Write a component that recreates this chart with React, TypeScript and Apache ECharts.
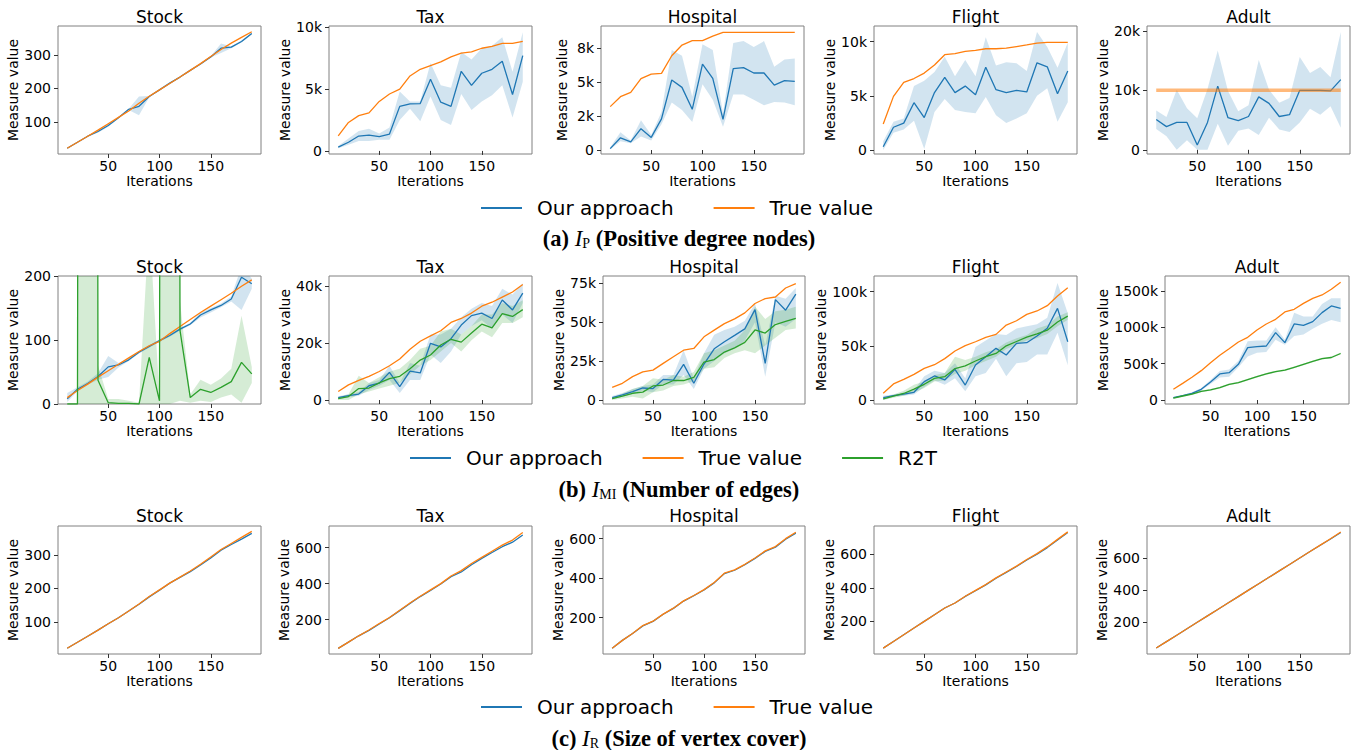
import { useEffect, useRef } from 'react';
import * as echarts from 'echarts';

// ---------------- data ----------------
const ITERATIONS = [10, 20, 30, 40, 50, 60, 70, 80, 90, 100, 110, 120, 130, 140, 150, 160, 170, 180, 190];
const X_TICKS = [50, 100, 150];
const DATASETS = ['Stock', 'Tax', 'Hospital', 'Flight', 'Adult'];
const NAME_OURS = 'Our approach';
const NAME_TRUE = 'True value';
const NAME_R2T = 'R2T';

// (a) positive degree nodes
const A_STOCK_TRUE = [22, 40, 58, 76, 95, 114, 133, 156, 177, 196, 215, 234, 254, 274, 295, 316, 335, 352, 369];
const A_STOCK_OURS = [22, 40, 58, 72, 90, 113, 138, 147, 176, 196, 216, 234, 254, 273, 294, 320, 323, 340, 364];
const A_STOCK_LO = [21, 39, 57, 68, 86, 111, 136, 120, 174, 194, 214, 232, 252, 271, 292, 306, 320, 337, 361];
const A_STOCK_HI = [23, 41, 59, 78, 94, 115, 140, 176, 178, 198, 218, 236, 256, 275, 296, 334, 326, 343, 367];

const A_TAX_TRUE = [1220, 2300, 2850, 3070, 4000, 4600, 5000, 6060, 6600, 6900, 7200, 7600, 7900, 8000, 8300, 8450, 8700, 8700, 8860];
const A_TAX_OURS = [300, 700, 1200, 1280, 1150, 1360, 3600, 3800, 3830, 5800, 3940, 3600, 6440, 5300, 6280, 6600, 7250, 4560, 7700];
const A_TAX_LO = [220, 500, 800, 800, 900, 900, 2500, 3400, 2400, 4400, 2500, 2100, 4600, 3300, 4000, 4500, 5300, 2700, 5600];
const A_TAX_HI = [400, 1000, 1600, 1800, 1400, 1900, 4800, 4000, 4000, 7100, 5300, 5100, 8000, 7400, 8300, 8500, 9200, 6400, 9600];

const A_HOSP_TRUE = [3200, 3930, 4250, 5260, 5600, 5650, 6950, 7740, 8060, 8060, 8400, 8680, 8680, 8680, 8680, 8680, 8680, 8680, 8680];
const A_HOSP_OURS = [100, 900, 600, 1570, 930, 2300, 5160, 4620, 3000, 6340, 5280, 2260, 6000, 6070, 5680, 5680, 4790, 5110, 5060];
const A_HOSP_LO = [50, 650, 500, 1000, 700, 1900, 3500, 2950, 2060, 4840, 3700, 1720, 4100, 4100, 3700, 3300, 3540, 3500, 3300];
const A_HOSP_HI = [200, 1300, 700, 2200, 1100, 2800, 7370, 6950, 3930, 7800, 7370, 2700, 7900, 8030, 7600, 8030, 6140, 6680, 6750];

const A_FLIGHT_TRUE = [2400, 4950, 6250, 6600, 7100, 7850, 8800, 8900, 9100, 9200, 9350, 9350, 9400, 9550, 9700, 9870, 9940, 9940, 9940];
const A_FLIGHT_OURS = [300, 2100, 2480, 4370, 3000, 5300, 6700, 5300, 5900, 5100, 7650, 5570, 5300, 5500, 5360, 8050, 7680, 5200, 7300];
const A_FLIGHT_LO = [0, 1600, 1900, 2700, 100, 3500, 4700, 3700, 3500, 3400, 4900, 3200, 2500, 2900, 3400, 5000, 5700, 2600, 4400];
const A_FLIGHT_HI = [800, 2600, 2900, 5900, 6400, 7200, 8600, 6800, 8300, 6800, 10400, 7800, 8100, 8000, 7300, 10900, 9500, 7600, 9900];

const A_ADULT_TRUE = [10000, 10000, 10000, 10000, 10000, 10000, 10000, 10000, 10000, 10000, 10000, 10000, 10000, 10000, 10000, 10000, 10000, 10000, 10000];
const A_ADULT_OURS = [5100, 3900, 4600, 4600, 800, 4600, 10700, 5400, 4900, 5600, 8900, 7800, 5600, 5900, 10000, 10000, 10000, 9900, 11800];
const A_ADULT_LO = [3500, 2300, 0, 1600, 0, 0, 4400, 700, 3200, 3600, 2500, 5400, 3400, 3000, 4600, 6900, 5900, 7300, 3700];
const A_ADULT_HI = [6600, 5500, 10100, 7000, 5300, 10200, 16700, 9900, 6500, 7500, 15100, 10100, 7900, 8700, 15600, 12900, 13900, 12200, 19800];

// (b) number of edges
const B_STOCK_TRUE = [10, 21, 31, 42, 52, 62, 72, 82, 91, 98, 110, 121, 132, 143, 153, 163, 173, 184, 194];
const B_STOCK_OURS = [8, 23, 32, 43, 58, 61, 69, 81, 90, 99, 107, 117, 125, 139, 147, 154, 164, 198, 188];
const B_STOCK_LO = [3, 20, 30, 38, 42, 57, 67, 79, 88, 97, 105, 115, 123, 135, 143, 151, 160, 147, 180];
const B_STOCK_HI = [17, 26, 35, 48, 75, 64, 71, 83, 92, 101, 109, 119, 127, 143, 150, 157, 168, 215, 196];
const B_STOCK_R2T = [0, 0, 10000, 37, 2, 1, 1, 0, 73, 5, 10000, 115, 10, 23, 18, 26, 35, 65, 47];
const B_STOCK_R2T_LO = [0, 0, 0, 0, 0, 0, 0, 0, 0, 0, 0, 5, 2, 5, 3, 10, 15, 2, 33];
const B_STOCK_R2T_HI = [0, 0, 10000, 60, 8, 8, 5, 2, 285, 10, 10000, 160, 15, 38, 30, 40, 55, 138, 58];

const B_TAX_TRUE = [3000, 5300, 6900, 8300, 10000, 12000, 14400, 17800, 20600, 22500, 24300, 27200, 28600, 30500, 32900, 34300, 36100, 37900, 40500];
const B_TAX_OURS = [800, 1500, 2100, 5000, 5900, 9700, 4700, 10100, 9500, 19900, 18600, 21500, 26300, 29600, 30500, 28600, 35100, 31600, 37500];
const B_TAX_LO = [300, 1000, 1500, 3500, 5000, 7000, 2500, 7000, 7000, 16000, 13000, 17000, 23000, 26000, 28000, 25000, 30000, 27000, 34000];
const B_TAX_HI = [1300, 2000, 2800, 6000, 7000, 12000, 6000, 13000, 12000, 23000, 23000, 25000, 29000, 32000, 34000, 33000, 39000, 37000, 41000];
const B_TAX_R2T = [500, 1200, 4000, 4200, 6000, 7500, 8300, 11000, 14000, 15800, 19300, 21300, 20300, 23500, 26600, 25300, 30300, 29300, 31700];
const B_TAX_R2T_LO = [0, 0, 2000, 3000, 4000, 5000, 6000, 9000, 12000, 14000, 17000, 20000, 17000, 21000, 24000, 22000, 27000, 27000, 29000];
const B_TAX_R2T_HI = [1000, 2000, 8500, 6000, 8000, 10000, 11000, 14000, 18000, 19000, 24000, 25000, 23000, 26000, 30000, 30000, 34000, 33000, 35000];

const B_HOSP_TRUE = [8100, 10700, 15000, 18000, 19200, 23500, 27800, 32000, 33100, 40600, 44900, 49100, 52100, 56000, 62000, 65200, 66200, 72000, 74800];
const B_HOSP_OURS = [1500, 3200, 5300, 7700, 7300, 13200, 12800, 22900, 10700, 23100, 32900, 37400, 41500, 45700, 58100, 23500, 64500, 57700, 68000];
const B_HOSP_LO = [500, 2000, 4000, 6000, 5000, 10000, 10000, 16000, 7000, 20000, 25000, 30000, 33000, 38000, 50000, 15000, 50000, 47000, 52000];
const B_HOSP_HI = [2500, 4500, 7000, 9000, 10000, 16000, 16000, 32000, 14000, 30000, 42000, 45000, 47000, 51000, 62000, 35000, 67000, 65000, 72000];
const B_HOSP_R2T = [800, 2500, 4300, 5000, 9000, 9600, 12500, 12500, 14500, 24400, 26000, 30800, 33500, 37000, 45000, 43000, 48500, 50500, 52500];
const B_HOSP_R2T_LO = [0, 1000, 2000, 1000, 5000, 6000, 9000, 10000, 12000, 20000, 21000, 27000, 30000, 32000, 30000, 35000, 40000, 45000, 46000];
const B_HOSP_R2T_HI = [1500, 4000, 7000, 9000, 14000, 13000, 16000, 15000, 18000, 30000, 32000, 35000, 38000, 45000, 60000, 52000, 57000, 58000, 60000];

const B_FLIGHT_TRUE = [6200, 14800, 19100, 23700, 29200, 32600, 38200, 45200, 50200, 53800, 57800, 60600, 69200, 73200, 79100, 82200, 87100, 96000, 103700];
const B_FLIGHT_OURS = [2200, 4000, 5500, 7100, 17000, 22200, 18500, 28300, 13800, 32300, 40000, 47700, 41500, 52300, 52900, 59100, 66200, 84600, 53800];
const B_FLIGHT_LO = [0, 3000, 4000, 5000, 12000, 18000, 14000, 20000, 8000, 22000, 25000, 38000, 22000, 34000, 35000, 42000, 42000, 62000, 32000];
const B_FLIGHT_HI = [4000, 5000, 7000, 9000, 22000, 27000, 25000, 34000, 20000, 49000, 55000, 61000, 60000, 66000, 68000, 70000, 76000, 108000, 80000];
const B_FLIGHT_R2T = [1000, 3500, 6000, 10000, 14500, 20000, 21500, 29000, 31500, 36000, 40000, 43000, 50000, 54000, 58000, 61000, 64500, 72000, 77500];
const B_FLIGHT_R2T_LO = [0, 2000, 4000, 7000, 11000, 17000, 18000, 24000, 27000, 32000, 36000, 40000, 47000, 51000, 55000, 57000, 61000, 68000, 74000];
const B_FLIGHT_R2T_HI = [2000, 5000, 8500, 14000, 17000, 23000, 25000, 40000, 37000, 40000, 44000, 47000, 53000, 57000, 60000, 66000, 69000, 77000, 81000];

const B_ADULT_TRUE = [147000, 229000, 312000, 404000, 514000, 615000, 706000, 798000, 862000, 963000, 1046000, 1110000, 1211000, 1248000, 1330000, 1399000, 1445000, 1523000, 1619000];
const B_ADULT_OURS = [32000, 60000, 92000, 147000, 248000, 358000, 376000, 491000, 720000, 734000, 743000, 927000, 789000, 1046000, 1028000, 1078000, 1202000, 1294000, 1261000];
const B_ADULT_LO = [25000, 50000, 80000, 130000, 220000, 310000, 320000, 450000, 600000, 650000, 660000, 830000, 760000, 880000, 900000, 980000, 1050000, 1100000, 1070000];
const B_ADULT_HI = [40000, 70000, 105000, 165000, 275000, 400000, 420000, 540000, 810000, 820000, 820000, 1000000, 830000, 1200000, 1150000, 1150000, 1320000, 1400000, 1400000];
const B_ADULT_R2T = [25000, 55000, 80000, 120000, 140000, 170000, 215000, 240000, 280000, 320000, 360000, 390000, 410000, 450000, 490000, 530000, 570000, 585000, 640000];
const B_ADULT_R2T_LO = [15000, 43000, 68000, 108000, 128000, 158000, 203000, 228000, 268000, 308000, 348000, 378000, 398000, 438000, 478000, 518000, 558000, 573000, 628000];
const B_ADULT_R2T_HI = [35000, 67000, 92000, 132000, 152000, 182000, 227000, 252000, 292000, 332000, 372000, 402000, 422000, 462000, 502000, 542000, 582000, 597000, 652000];

// (c) size of vertex cover
const C_STOCK_TRUE = [22, 40, 58, 76, 95, 113, 133, 154, 176, 196, 216, 234, 252, 272, 294, 316, 334, 352, 370];
const C_STOCK_OURS = [22, 40, 58, 76, 95, 113, 133, 153, 175, 195, 216, 233, 250, 270, 291, 314, 331, 347, 364];
const C_TAX_TRUE = [40, 75, 110, 142, 178, 212, 252, 292, 330, 365, 400, 442, 472, 512, 546, 580, 614, 642, 684];
const C_TAX_OURS = [40, 75, 110, 140, 176, 210, 250, 290, 328, 362, 398, 438, 465, 505, 540, 573, 605, 630, 670];
const C_HOSP_TRUE = [45, 85, 120, 160, 182, 218, 248, 285, 312, 342, 378, 425, 442, 470, 502, 538, 560, 600, 632];
const C_HOSP_OURS = [45, 85, 120, 158, 181, 217, 247, 284, 311, 340, 376, 423, 440, 468, 500, 535, 557, 597, 628];
const C_FLIGHT_TRUE = [40, 80, 120, 160, 200, 240, 280, 310, 350, 385, 420, 460, 495, 530, 570, 605, 645, 690, 735];
const C_FLIGHT_OURS = [40, 80, 120, 160, 200, 240, 280, 310, 349, 383, 418, 458, 493, 528, 567, 602, 641, 686, 731];
const C_ADULT_TRUE = [40, 80, 120, 160, 200, 240, 280, 320, 360, 400, 440, 480, 520, 560, 600, 640, 680, 720, 762];
const C_ADULT_OURS = [40, 80, 120, 160, 200, 240, 280, 320, 360, 400, 440, 480, 520, 560, 600, 640, 679, 718, 759];

// y axis extents and tick labels
const A_Y = [
  { min: 5, max: 386, ticks: [100, 200, 300], labels: ['100', '200', '300'] },
  { min: -250, max: 10100, ticks: [0, 5000, 10000], labels: ['0', '5k', '10k'] },
  { min: -295, max: 9145, ticks: [0, 2500, 5000, 7500], labels: ['0', '2k', '5k', '8k'] },
  { min: -370, max: 11450, ticks: [0, 5000, 10000], labels: ['0', '5k', '10k'] },
  { min: -700, max: 20800, ticks: [0, 10000, 20000], labels: ['0', '10k', '20k'] },
];
const B_Y = [
  { min: 0, max: 200, ticks: [0, 100, 200], labels: ['0', '100', '200'] },
  { min: -1400, max: 43500, ticks: [0, 20000, 40000], labels: ['0', '20k', '40k'] },
  { min: -2600, max: 79700, ticks: [0, 25000, 50000, 75000], labels: ['0', '25k', '50k', '75k'] },
  { min: -3700, max: 114500, ticks: [0, 50000, 100000], labels: ['0', '50k', '100k'] },
  { min: -55000, max: 1706000, ticks: [0, 500000, 1000000, 1500000], labels: ['0', '500k', '1000k', '1500k'] },
];
const C_Y = [
  { min: 5, max: 386, ticks: [100, 200, 300], labels: ['100', '200', '300'] },
  { min: 9, max: 720, ticks: [200, 400, 600], labels: ['200', '400', '600'] },
  { min: 16, max: 664, ticks: [200, 400, 600], labels: ['200', '400', '600'] },
  { min: 5, max: 770, ticks: [200, 400, 600], labels: ['200', '400', '600'] },
  { min: 3, max: 799, ticks: [200, 400, 600], labels: ['200', '400', '600'] },
];

// ---------------- plot table ----------------
type Band = { lo: number[]; hi: number[] };
type PlotSpec = {
  ours: number[]; oursBand?: Band; truth: number[]; r2t?: number[]; r2tBand?: Band;
};
const ROWS: PlotSpec[][] = [
  [
    { ours: A_STOCK_OURS, oursBand: { lo: A_STOCK_LO, hi: A_STOCK_HI }, truth: A_STOCK_TRUE },
    { ours: A_TAX_OURS, oursBand: { lo: A_TAX_LO, hi: A_TAX_HI }, truth: A_TAX_TRUE },
    { ours: A_HOSP_OURS, oursBand: { lo: A_HOSP_LO, hi: A_HOSP_HI }, truth: A_HOSP_TRUE },
    { ours: A_FLIGHT_OURS, oursBand: { lo: A_FLIGHT_LO, hi: A_FLIGHT_HI }, truth: A_FLIGHT_TRUE },
    { ours: A_ADULT_OURS, oursBand: { lo: A_ADULT_LO, hi: A_ADULT_HI }, truth: A_ADULT_TRUE },
  ],
  [
    { ours: B_STOCK_OURS, oursBand: { lo: B_STOCK_LO, hi: B_STOCK_HI }, truth: B_STOCK_TRUE, r2t: B_STOCK_R2T, r2tBand: { lo: B_STOCK_R2T_LO, hi: B_STOCK_R2T_HI } },
    { ours: B_TAX_OURS, oursBand: { lo: B_TAX_LO, hi: B_TAX_HI }, truth: B_TAX_TRUE, r2t: B_TAX_R2T, r2tBand: { lo: B_TAX_R2T_LO, hi: B_TAX_R2T_HI } },
    { ours: B_HOSP_OURS, oursBand: { lo: B_HOSP_LO, hi: B_HOSP_HI }, truth: B_HOSP_TRUE, r2t: B_HOSP_R2T, r2tBand: { lo: B_HOSP_R2T_LO, hi: B_HOSP_R2T_HI } },
    { ours: B_FLIGHT_OURS, oursBand: { lo: B_FLIGHT_LO, hi: B_FLIGHT_HI }, truth: B_FLIGHT_TRUE, r2t: B_FLIGHT_R2T, r2tBand: { lo: B_FLIGHT_R2T_LO, hi: B_FLIGHT_R2T_HI } },
    { ours: B_ADULT_OURS, oursBand: { lo: B_ADULT_LO, hi: B_ADULT_HI }, truth: B_ADULT_TRUE, r2t: B_ADULT_R2T, r2tBand: { lo: B_ADULT_R2T_LO, hi: B_ADULT_R2T_HI } },
  ],
  [
    { ours: C_STOCK_OURS, truth: C_STOCK_TRUE },
    { ours: C_TAX_OURS, truth: C_TAX_TRUE },
    { ours: C_HOSP_OURS, truth: C_HOSP_TRUE },
    { ours: C_FLIGHT_OURS, truth: C_FLIGHT_TRUE },
    { ours: C_ADULT_OURS, truth: C_ADULT_TRUE },
  ],
];
const ROW_Y = [A_Y, B_Y, C_Y];

// ---------------- layout & style ----------------
const BLUE = '#1f77b4';
const ORANGE = '#ff7f0e';
const GREEN = '#2ca02c';
const BLUE_FILL = 'rgba(31,119,180,0.2)';
const GREEN_FILL = 'rgba(44,160,44,0.2)';
const FONT = 'DejaVu Sans';
const SERIF = 'Liberation Serif';
const ROW_TOP = [26, 276, 526];
const TITLE_Y = [17, 267, 516];
const PLOT_H = 128;
const COL_LEFT = [58, 329, 601, 874, 1147];
const PLOT_W = 203;
const GEOM_OVERRIDE: Record<string, { left: number; width: number; nameGap?: number }> = {
  '1-2': { left: 603, width: 202 },
  '1-4': { left: 1165, width: 184, nameGap: 51 },
  '2-2': { left: 603, width: 202 },
};
const LEGENDS = [
  { items: [NAME_OURS, NAME_TRUE], left: 481, cy: 210 },
  { items: [NAME_OURS, NAME_TRUE, NAME_R2T], left: 410, cy: 460 },
  { items: [NAME_OURS, NAME_TRUE], left: 481, cy: 709 },
];
const CAPTIONS = [
  { tag: '(a) ', sub: 'P', rest: ' (Positive degree nodes)', cy: 238 },
  { tag: '(b) ', sub: 'MI', rest: ' (Number of edges)', cy: 489 },
  { tag: '(c) ', sub: 'R', rest: ' (Size of vertex cover)', cy: 738 },
];

function buildOption() {
  const grid: any[] = [];
  const xAxis: any[] = [];
  const yAxis: any[] = [];
  const series: any[] = [];
  const graphic: any[] = [];
  const pts = (ys: number[]) => ITERATIONS.map((x, i) => [x, ys[i]]);

  ROWS.forEach((row, r) => {
    row.forEach((p, c) => {
      const idx = grid.length;
      const ov = GEOM_OVERRIDE[`${r}-${c}`];
      const left = ov ? ov.left : COL_LEFT[c];
      const width = ov ? ov.width : PLOT_W;
      const yc = ROW_Y[r][c];
      grid.push({ left, top: ROW_TOP[r], width, height: PLOT_H, show: true, borderColor: '#808080', borderWidth: 1, backgroundColor: 'transparent' });
      xAxis.push({
        type: 'value', gridIndex: idx, min: 1, max: 199,
        splitLine: { show: false }, axisLine: { show: false },
        axisTick: { show: true, length: 4, customValues: X_TICKS, lineStyle: { color: '#333', width: 1 } },
        axisLabel: { customValues: X_TICKS, fontSize: 14, fontFamily: FONT, color: '#000', margin: 5 },
        name: 'Iterations', nameLocation: 'middle', nameGap: 19,
        nameTextStyle: { fontSize: 14, fontFamily: FONT, color: '#000' },
      });
      yAxis.push({
        type: 'value', gridIndex: idx, min: yc.min, max: yc.max,
        splitLine: { show: false }, axisLine: { show: false },
        axisTick: { show: true, length: 4, customValues: yc.ticks, lineStyle: { color: '#333', width: 1 } },
        axisLabel: {
          customValues: yc.ticks, fontSize: 14, fontFamily: FONT, color: '#000', margin: 7,
          formatter: (v: number) => { const k = yc.ticks.indexOf(v); return k >= 0 ? yc.labels[k] : ''; },
        },
        name: 'Measure value', nameLocation: 'middle', nameGap: ov && ov.nameGap ? ov.nameGap : 32,
        nameTextStyle: { fontSize: 14, fontFamily: FONT, color: '#000' },
      });
      const base = { type: 'line', xAxisIndex: idx, yAxisIndex: idx, symbol: 'none', silent: true, clip: true };
      const addBand = (b: Band, fill: string) => {
        series.push({
          type: 'custom', xAxisIndex: idx, yAxisIndex: idx, silent: true, z: 1,
          data: ITERATIONS.map((x, i) => [x, b.lo[i], b.hi[i]]),
          encode: { x: 0, y: [1, 2] },
          renderItem: (params: any, api: any) => {
            if (params.dataIndex !== 0) return null;
            const upper = ITERATIONS.map((x, i) => api.coord([x, b.hi[i]]));
            const lower = ITERATIONS.map((x, i) => api.coord([x, b.lo[i]])).reverse();
            const cs = params.coordSys;
            return {
              type: 'polygon',
              shape: { points: upper.concat(lower) },
              style: { fill, stroke: 'none' },
              clipPath: { type: 'rect', shape: { x: cs.x, y: cs.y, width: cs.width, height: cs.height } },
            };
          },
        });
      };
      if (p.oursBand) addBand(p.oursBand, BLUE_FILL);
      if (p.r2tBand) addBand(p.r2tBand, GREEN_FILL);
      series.push({ ...base, name: NAME_OURS, data: pts(p.ours), itemStyle: { color: BLUE }, lineStyle: { color: BLUE, width: 1.3 }, z: 3 });
      const thickTruth = r === 0 && c === 4;
      series.push({ ...base, name: NAME_TRUE, data: pts(p.truth), itemStyle: { color: ORANGE },
        lineStyle: { color: ORANGE, width: thickTruth ? 3.5 : 1.3, opacity: thickTruth ? 0.55 : 1 }, z: 4 });
      if (p.r2t) series.push({ ...base, name: NAME_R2T, data: pts(p.r2t), itemStyle: { color: GREEN }, lineStyle: { color: GREEN, width: 1.3 }, z: 5 });

      graphic.push({
        type: 'text', x: left + width / 2, y: TITLE_Y[r],
        style: { text: DATASETS[c], fontSize: 17, fontFamily: FONT, fill: '#000', align: 'center', verticalAlign: 'middle' },
      });
    });
  });

  CAPTIONS.forEach((cap) => {
    graphic.push({
      type: 'text', x: 679, y: cap.cy,
      style: {
        text: `{b|${cap.tag}}{i|I}{s|${cap.sub}}{b|${cap.rest}}`,
        align: 'center', verticalAlign: 'middle',
        rich: {
          b: { fontSize: 22.5, fontWeight: 'bold', fontFamily: SERIF, fill: '#000', lineHeight: 24 },
          i: { fontSize: 23, fontStyle: 'italic', fontFamily: SERIF, fill: '#000', lineHeight: 24 },
          s: { fontSize: 14, fontFamily: SERIF, fill: '#000', lineHeight: 14, verticalAlign: 'bottom' },
        },
      },
    });
  });

  const legend = LEGENDS.map((lg) => ({
    data: lg.items, left: lg.left, top: lg.cy - 12, orient: 'horizontal', padding: 0,
    icon: 'rect', itemWidth: 41, itemHeight: 2, itemGap: 40, selectedMode: false,
    textStyle: { fontSize: 20, fontFamily: FONT, color: '#000', padding: [0, 0, 0, 10] },
  }));

  return { animation: false, backgroundColor: '#fff', grid, xAxis, yAxis, series, graphic, legend };
}

export default function App() {
  const ref = useRef<HTMLDivElement>(null);
  useEffect(() => {
    if (!ref.current) return;
    const chart = echarts.init(ref.current, undefined, { renderer: 'svg' });
    chart.setOption(buildOption() as any);
    return () => chart.dispose();
  }, []);
  return <div ref={ref} style={{ position: 'fixed', left: 0, top: 0, width: 1362, height: 750 }} />;
}
